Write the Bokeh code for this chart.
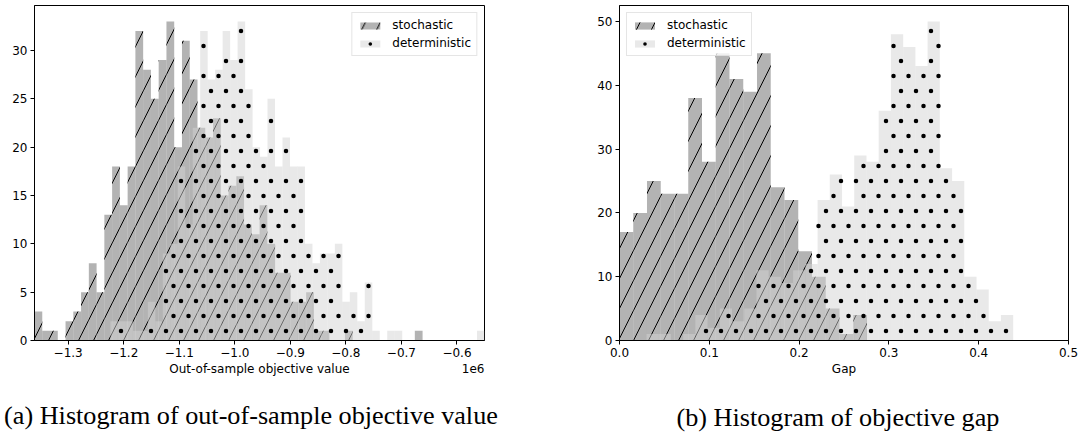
import numpy as np
from bokeh.plotting import figure
from bokeh.layouts import row
from bokeh.models import FixedTicker, CustomJSTickFormatter, Label, ColumnDataSource, Title
from bokeh.embed import file_html
from bokeh.resources import INLINE

# ---------------- data ----------------
# (a) out-of-sample objective value
a_stoch_range = (-1.3606e6, -0.6619e6)
a_stoch_counts = [3, 1, 1, 0, 2, 3, 5, 8, 5, 13,
                  18, 14, 18, 32, 28, 25, 29, 33, 20, 31,
                  27, 22, 21, 23, 15, 16, 17, 12, 11, 14,
                  10, 7, 7, 4, 4, 5, 1, 1, 0, 0,
                  1, 0, 0, 0, 0, 0, 0, 0, 0, 1]
a_det_range = (-1.2239e6, -0.5504e6)
a_det_counts = [2, 2, 2, 1, 1, 4, 2, 9, 10, 18,
                12, 22, 32, 27, 28, 32, 29, 33, 26, 20,
                19, 25, 18, 21, 18, 18, 10, 8, 9, 9,
                10, 4, 5, 2, 6, 1, 0, 1, 1, 0,
                0, 0, 0, 0, 0, 0, 0, 0, 0, 1]
a_xticks = [-1.3e6, -1.2e6, -1.1e6, -1.0e6, -0.9e6, -0.8e6, -0.7e6, -0.6e6]
a_yticks = [0, 5, 10, 15, 20, 25, 30]

# (b) objective gap
b_stoch_range = (0.0, 0.2756)
b_stoch_counts = [17, 20, 25, 23, 23, 38, 28, 45, 41, 39, 45, 24, 22, 14, 10, 5, 1, 4]
b_det_range = (0.0300, 0.4384)
b_det_counts = [1, 1, 0, 1, 4, 2, 5, 3, 5, 11, 10, 9, 11, 12, 22, 26, 21, 29, 28, 36,
                48, 46, 43, 50, 27, 25, 10, 8, 3, 4]
b_xticks = [0.0, 0.1, 0.2, 0.3, 0.4, 0.5]
b_yticks = [0, 10, 20, 30, 40, 50]

labels = ["stochastic", "deterministic"]
captions = ["(a) Histogram of out-of-sample objective value", "(b) Histogram of objective gap"]
xlabels = ["Out-of-sample objective value", "Gap"]
offset_text = "1e6"

SANS = "DejaVu Sans"
FRAME_H = 335


def hist_source(rng, counts):
    edges = np.linspace(rng[0], rng[1], len(counts) + 1)
    return ColumnDataSource(dict(left=edges[:-1], right=edges[1:],
                                 bottom=np.zeros(len(counts)), top=np.array(counts, dtype=float)))


def dot_hatch(rng, counts, xr, yr, fw, fh=FRAME_H, step=15.0, row0=9.5, phase=(11.5, 4.0)):
    """Staggered dot hatch (matplotlib '.') laid on a fixed screen lattice, kept inside the bars."""
    edges = np.linspace(rng[0], rng[1], len(counts) + 1)
    ux = (xr[1] - xr[0]) / fw
    uy = (yr[1] - yr[0]) / fh
    xs, ys = [], []
    j = 0
    while row0 + step * j < fh:
        py = row0 + step * j
        px = phase[j % 2]
        while px < fw:
            xd = xr[0] + px * ux
            k = int(np.searchsorted(edges, xd, side="right")) - 1
            if 0 <= k < len(counts) and (py + 1.5) * uy <= counts[k]:
                xs.append(xd)
                ys.append(yr[0] + py * uy)
            px += step
        j += 1
    return ColumnDataSource(dict(x=xs, y=ys))


def make_panel(stoch_rng, stoch_counts, det_rng, det_counts, xr, yr, xticks, yticks,
               xfmt, xlabel, legend_loc, bl, fw, br):
    p = figure(output_backend="svg", toolbar_location=None,
               x_range=xr, y_range=yr,
               frame_width=fw, frame_height=FRAME_H,
               min_border_left=bl, min_border_right=br, min_border_top=5, min_border_bottom=95)
    p.xgrid.visible = False
    p.ygrid.visible = False
    p.background_fill_color = "white"
    p.border_fill_color = "white"
    p.outline_line_color = "black"
    p.outline_line_width = 1

    p.quad(left="left", right="right", bottom="bottom", top="top",
           source=hist_source(stoch_rng, stoch_counts),
           fill_color="gray", fill_alpha=0.6, line_color=None,
           hatch_pattern="/", hatch_color="black", hatch_alpha=1.0, hatch_scale=30, hatch_weight=1,
           legend_label=labels[0])
    p.quad(left="left", right="right", bottom="bottom", top="top",
           source=hist_source(det_rng, det_counts),
           fill_color="lightgray", fill_alpha=0.5, line_color=None,
           legend_label=labels[1])
    p.scatter(x="x", y="y", source=dot_hatch(det_rng, det_counts, xr, yr, fw),
              marker="circle", size=4.5, fill_color="black", line_color=None,
              legend_label=labels[1])

    for ax in (p.xaxis[0], p.yaxis[0]):
        ax.axis_line_color = "black"
        ax.major_tick_line_color = "black"
        ax.major_tick_in = 0
        ax.major_tick_out = 4
        ax.minor_tick_line_color = None
        ax.major_label_text_font = SANS
        ax.major_label_text_font_size = "12px"
        ax.major_label_text_color = "black"
        ax.major_label_standoff = 3
        ax.axis_label_text_font = SANS
        ax.axis_label_text_font_size = "12px"
        ax.axis_label_text_font_style = "normal"
        ax.axis_label_text_color = "black"
    p.xaxis.ticker = FixedTicker(ticks=xticks)
    p.yaxis.ticker = FixedTicker(ticks=yticks)
    p.xaxis.formatter = xfmt
    p.xaxis.axis_label = xlabel
    p.xaxis.axis_label_standoff = 2

    lg = p.legend[0]
    lg.location = legend_loc
    lg.margin = 7
    lg.padding = 5
    lg.spacing = 4
    lg.glyph_width = 25
    lg.glyph_height = 9
    lg.label_height = 14
    lg.label_standoff = 10
    lg.label_text_font = SANS
    lg.label_text_font_size = "12px"
    lg.label_text_color = "black"
    lg.border_line_color = "#cccccc"
    lg.border_line_width = 1
    lg.background_fill_alpha = 0.8
    return p


def add_spacer(p, size):
    p.add_layout(Title(text=" ", text_font=SANS, text_font_size=size, standoff=0), "below")


def add_caption(p, caption, offset):
    p.add_layout(Title(text=caption, align="left", offset=offset, standoff=6,
                       text_font="Liberation Serif", text_font_size="26.2px",
                       text_font_style="normal", text_color="black"), "below")


fmt_a = CustomJSTickFormatter(code="return (tick/1e6).toFixed(1).replace('-', '\u2212');")
fmt_b = CustomJSTickFormatter(code="return tick.toFixed(1);")

a_xr = (-1.3606e6, -0.5504e6)
pa = make_panel(a_stoch_range, a_stoch_counts, a_det_range, a_det_counts,
                a_xr, (0, 34.65), a_xticks, a_yticks, fmt_a,
                xlabels[0], "top_right", 34, 450, 56)
# offset text of the x axis, in its own slot under the axis, lifted to the axis-label row
pa.add_layout(Label(x=450, y=19, x_units="screen", y_units="screen", text=offset_text,
                    text_font=SANS, text_font_size="12px", text_color="black",
                    text_align="right", text_baseline="middle"), "below")
add_spacer(pa, "5.2px")
add_caption(pa, captions[0], -30.4)

pb = make_panel(b_stoch_range, b_stoch_counts, b_det_range, b_det_counts,
                (0, 0.5), (0, 52.5), b_xticks, b_yticks, fmt_b,
                xlabels[1], "top_left", 79, 449, 11)
add_spacer(pb, "14.6px")
add_caption(pb, captions[1], 57)

layout = row(pa, pb)
open("out.html", "w").write(file_html(layout, INLINE))
